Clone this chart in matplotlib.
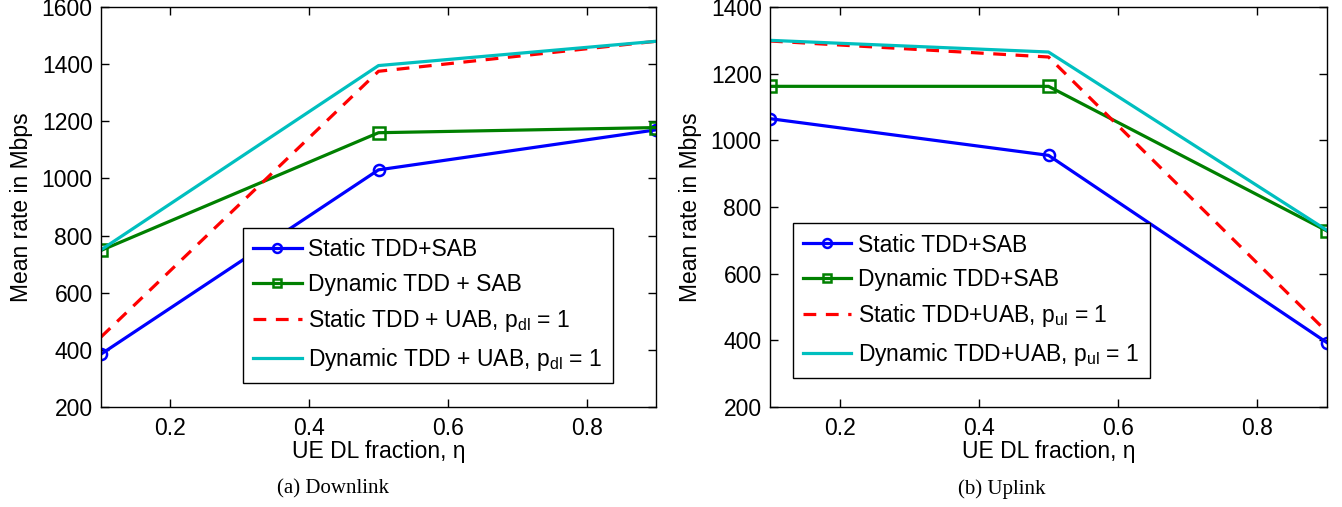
import matplotlib
matplotlib.use("Agg")
import matplotlib.pyplot as plt

plt.rcParams['font.family'] = ['Liberation Sans', 'DejaVu Sans']
plt.rcParams['mathtext.fontset'] = 'custom'
plt.rcParams['mathtext.rm'] = 'Liberation Sans'
plt.rcParams['mathtext.it'] = 'Liberation Sans:italic'

eta = [0.1, 0.5, 0.9]

# Downlink
dl_static_sab = [385, 1030, 1170]
dl_dynamic_sab = [748, 1160, 1178]
dl_static_uab = [445, 1375, 1480]
dl_dynamic_uab = [750, 1395, 1480]

# Uplink
ul_static_sab = [1065, 955, 393]
ul_dynamic_sab = [1162, 1162, 728]
ul_static_uab = [1298, 1250, 425]
ul_dynamic_uab = [1300, 1265, 730]

dl_labels = ["Static TDD+SAB", "Dynamic TDD + SAB",
             r"Static TDD + UAB, $\mathregular{p_{dl}}$ = 1",
             r"Dynamic TDD + UAB, $\mathregular{p_{dl}}$ = 1"]
ul_labels = ["Static TDD+SAB", "Dynamic TDD+SAB",
             r"Static TDD+UAB, $\mathregular{p_{ul}}$ = 1",
             r"Dynamic TDD+UAB, $\mathregular{p_{ul}}$ = 1"]

xticks = [0.2, 0.4, 0.6, 0.8]
dl_yticks = [200, 400, 600, 800, 1000, 1200, 1400, 1600]
ul_yticks = [200, 400, 600, 800, 1000, 1200, 1400]

blue = (0, 0, 1)
green = (0, 0.5, 0)
red = (1, 0, 0)
cyan = (0, 0.75, 0.75)

W, H = 1342, 507
fig = plt.figure(figsize=(W / 100, H / 100), dpi=100)

FS = 16.5


def panel(rect, series, labels, yticks, ylim, leg_anchor, caption, cap_x):
    ax = fig.add_axes(rect)
    s1, s2, s3, s4 = series
    ax.plot(eta, s1, '-o', color=blue, lw=2.3, ms=8, mfc='none', mew=1.8, label=labels[0])
    ax.plot(eta, s2, '-s', color=green, lw=2.3, ms=8, mfc='none', mew=1.8, label=labels[1])
    ax.plot(eta, s3, '--', color=red, lw=2.3, dashes=(4, 3), label=labels[2])
    ax.plot(eta, s4, '-', color=cyan, lw=2.3, label=labels[3])
    ax.set_xlim(0.1, 0.9)
    ax.set_ylim(*ylim)
    ax.set_xticks(xticks)
    ax.set_xticklabels([f"{t:.1f}" for t in xticks])
    ax.set_yticks(yticks)
    ax.tick_params(direction='in', top=True, right=True, labelsize=FS, length=6, width=1)
    ax.tick_params(axis='y', pad=6)
    ax.tick_params(axis='x', pad=7)
    for sp in ax.spines.values():
        sp.set_linewidth(1)
    ax.set_xlabel("UE DL fraction, \u03b7", fontsize=FS, labelpad=0)
    ax.set_ylabel("Mean rate in Mbps", fontsize=FS, labelpad=6)
    leg = ax.legend(loc='lower left', bbox_to_anchor=leg_anchor, fontsize=FS,
                    frameon=True, fancybox=False, edgecolor='black', framealpha=1,
                    handlelength=2.1, handletextpad=0.3, labelspacing=0.5,
                    borderpad=0.45, borderaxespad=0, markerscale=0.8)
    leg.get_frame().set_linewidth(1)
    fig.text(cap_x / W, 1 - 489 / H, caption, ha='center', va='center',
             fontsize=15, family='Liberation Serif')
    return ax


panel([101 / W, 1 - 407 / H, 555 / W, 400 / H],
      (dl_static_sab, dl_dynamic_sab, dl_static_uab, dl_dynamic_uab),
      dl_labels, dl_yticks, (200, 1600), (0.256, 0.06), "(a) Downlink", 333)
panel([770 / W, 1 - 407 / H, 557 / W, 400 / H],
      (ul_static_sab, ul_dynamic_sab, ul_static_uab, ul_dynamic_uab),
      ul_labels, ul_yticks, (200, 1400), (0.041, 0.072), "(b) Uplink", 1002)

fig.savefig("out.png", dpi=100)
